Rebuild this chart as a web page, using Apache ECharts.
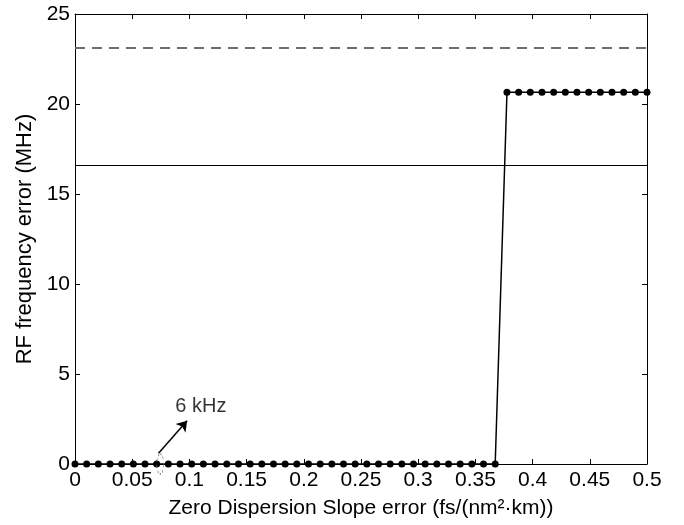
<!DOCTYPE html>
<html>
<head>
<meta charset="utf-8">
<script src="https://cdn.jsdelivr.net/npm/echarts@6/dist/echarts.min.js"></script>
<style>
html,body{margin:0;padding:0;background:#fff;}
#chart{width:684px;height:525px;}
</style>
</head>
<body>
<div id="chart"></div>
<script>
// slope error samples (fs/(nm^2 km))
var slopeErr = [0, 0.0102, 0.0204, 0.0306, 0.0408, 0.0510, 0.0612, 0.0714, 0.0816, 0.0918,
  0.1020, 0.1122, 0.1224, 0.1327, 0.1429, 0.1531, 0.1633, 0.1735, 0.1837, 0.1939,
  0.2041, 0.2143, 0.2245, 0.2347, 0.2449, 0.2551, 0.2653, 0.2755, 0.2857, 0.2959,
  0.3061, 0.3163, 0.3265, 0.3367, 0.3469, 0.3571, 0.3673, 0.3776, 0.3878, 0.3980,
  0.4082, 0.4184, 0.4286, 0.4388, 0.4490, 0.4592, 0.4694, 0.4796, 0.4898, 0.5];
// RF frequency error (MHz)
var rfErr = [0, 0, 0, 0, 0, 0, 0, 0, 0, 0,
  0, 0, 0, 0, 0, 0, 0, 0, 0, 0,
  0, 0, 0, 0, 0, 0, 0, 0, 0, 0,
  0, 0, 0, 0, 0, 0, 0, 20.65, 20.65, 20.65,
  20.65, 20.65, 20.65, 20.65, 20.65, 20.65, 20.65, 20.65, 20.65, 20.65];
var dashedLevel = 23.1;
var solidLevel = 16.6;
// 6 kHz note
var notePoint = [0.0745, 0];
var noteArrow = [[0.073, 0.6], [0.098, 2.4]];
var notePos = [0.110, 3.2];
var noteText = '6 kHz';

var chart = echarts.init(document.getElementById('chart'));
var font = 'Liberation Sans, Arial, sans-serif';
var pts = slopeErr.map(function (x, i) { return [x, rfErr[i]]; });

var axisCommon = {
  axisLine: {show: true, onZero: false, lineStyle: {color: '#000', width: 1}},
  axisTick: {show: true, inside: true, length: 5, lineStyle: {color: '#000'}},
  splitLine: {show: false}
};

var option = {
  animation: false,
  grid: {left: 75, right: 37, top: 14, bottom: 61},
  xAxis: [
    Object.assign({
      type: 'value', min: 0, max: 0.5, interval: 0.05, position: 'bottom',
      name: 'Zero Dispersion Slope error (fs/(nm²·km))',
      nameLocation: 'middle', nameGap: 34,
      nameTextStyle: {fontFamily: font, fontSize: 21, color: '#000'},
      axisLabel: {fontFamily: font, fontSize: 21, color: '#000', margin: 6}
    }, axisCommon),
    Object.assign({
      type: 'value', min: 0, max: 0.5, interval: 0.05, position: 'top',
      axisLabel: {show: false}
    }, axisCommon)
  ],
  yAxis: [
    Object.assign({
      type: 'value', min: 0, max: 25, interval: 5, position: 'left',
      name: 'RF frequency error (MHz)',
      nameLocation: 'middle', nameGap: 36,
      nameTextStyle: {fontFamily: font, fontSize: 22, color: '#000'},
      axisLabel: {fontFamily: font, fontSize: 21, color: '#000', margin: 5}
    }, axisCommon),
    Object.assign({
      type: 'value', min: 0, max: 25, interval: 5, position: 'right',
      axisLabel: {show: false}
    }, axisCommon)
  ],
  series: [
    {
      type: 'line',
      data: pts,
      symbol: 'circle',
      symbolSize: 7,
      itemStyle: {color: '#000'},
      lineStyle: {color: '#000', width: 1.5},
      z: 5,
      markLine: {
        silent: true,
        symbol: 'none',
        label: {show: false},
        data: [
          {yAxis: dashedLevel, lineStyle: {type: [10, 7], color: '#6e6e6e', width: 2}},
          {yAxis: solidLevel, lineStyle: {type: 'solid', color: '#000', width: 1}}
        ]
      }
    },
    {
      type: 'scatter',
      data: [notePoint],
      symbol: 'circle',
      symbolSize: [7, 20],
      itemStyle: {color: 'rgba(0,0,0,0)', borderColor: '#777', borderWidth: 1.2, borderType: [2, 2]},
      z: 6,
      markLine: {
        silent: true,
        symbol: ['none', 'arrow'],
        symbolSize: 10,
        label: {show: false},
        lineStyle: {color: '#000', width: 1.5, type: 'solid'},
        data: [[{coord: noteArrow[0]}, {coord: noteArrow[1]}]]
      }
    },
    {
      type: 'scatter',
      data: [notePos],
      symbolSize: 0,
      label: {show: true, position: 'inside', formatter: noteText,
        fontFamily: font, fontSize: 20, color: '#000'}
    }
  ]
};
chart.setOption(option);
</script>
</body>
</html>
